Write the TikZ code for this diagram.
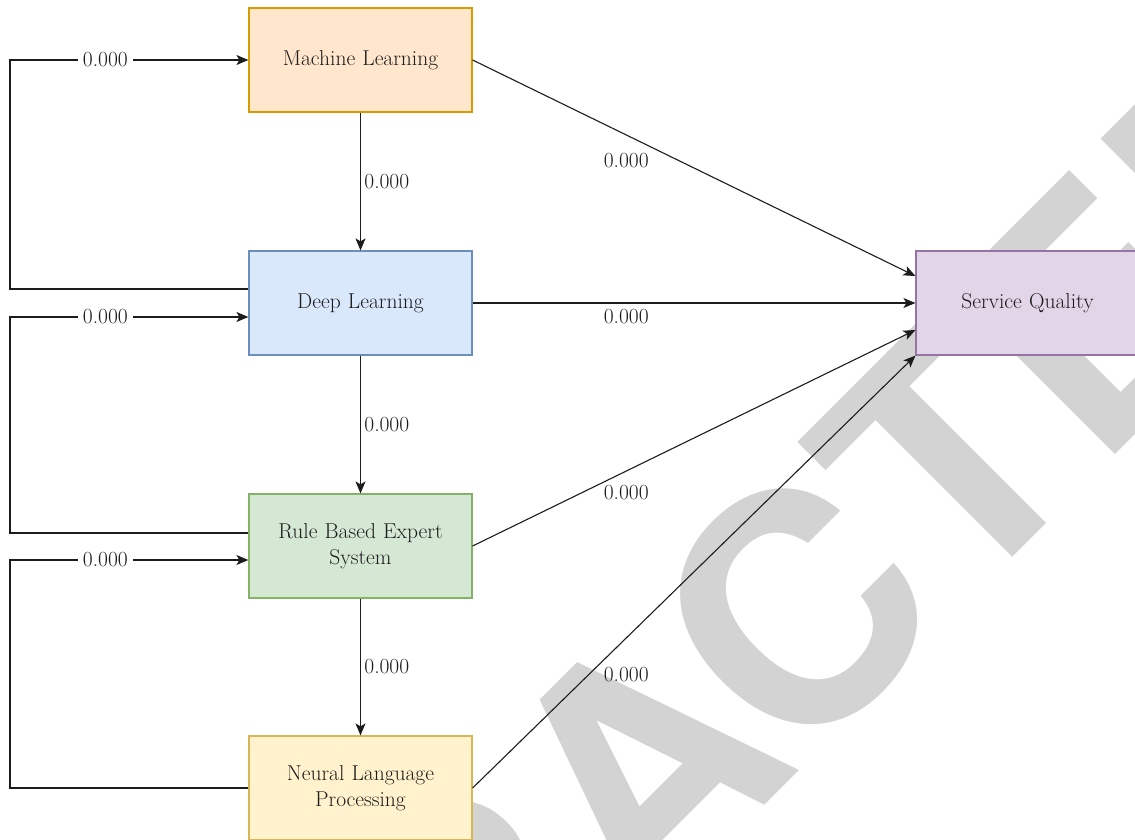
\documentclass[tikz,border=0pt]{standalone}
\usepackage{fontspec}
\newfontfamily\stampfont{TeX Gyre Heros}
\usetikzlibrary{arrows.meta}
\definecolor{mlfill}{HTML}{FFE6CC}
\definecolor{mldraw}{HTML}{D79B00}
\definecolor{dlfill}{HTML}{DAE8FC}
\definecolor{dldraw}{HTML}{6C8EBF}
\definecolor{rbfill}{HTML}{D5E8D4}
\definecolor{rbdraw}{HTML}{82B366}
\definecolor{nlfill}{HTML}{FFF2CC}
\definecolor{nldraw}{HTML}{D6B656}
\definecolor{sqfill}{HTML}{E1D5E7}
\definecolor{sqdraw}{HTML}{9673A6}
\definecolor{stampgray}{RGB}{211,211,211}
\definecolor{ink}{RGB}{28,28,28}
\tikzstyle{block} = [
    rectangle,
    minimum width = 223pt,
    minimum height = 104pt,
    text width = 210pt,
    align = center,
    line width = 1.2pt,
    text = ink,
]
\tikzstyle{weight} = [
    fill = white,
    inner sep = 5pt,
    text = ink,
]
\tikzstyle{link} = [
    -{Stealth[length=12pt, width=10pt, inset=3pt]},
    line width = 1.1pt,
    draw = ink,
]

\begin{document}
\begin{tikzpicture}[x=1pt, y=-1pt, font=\fontsize{21.5}{26}\selectfont]

        \useasboundingbox (0,0) rectangle (1135,839);
        \clip (0,0) rectangle (1135,839);

        %% Watermark
        \node (stamp) [rotate=45, anchor=base, inner sep=0pt, text=stampgray,
            font=\stampfont\bfseries\fontsize{320}{320}\selectfont] at (718,852) {RETRACTED};

        %% Rectangles
        \node (ml) [block, fill=mlfill, draw=mldraw] at (360.5,60)  {Machine Learning};
        \node (dl) [block, fill=dlfill, draw=dldraw] at (360.5,303) {Deep Learning};
        \node (rb) [block, fill=rbfill, draw=rbdraw] at (360.5,546) {Rule Based Expert\\System};
        \node (nl) [block, fill=nlfill, draw=nldraw] at (360.5,788) {Neural Language\\Processing};
        \node (sq) [block, fill=sqfill, draw=sqdraw] at (1027.5,303) {Service Quality};

        \coordinate (rail) at (10,0);
        \coordinate (dlin) at ([yshift=-14pt]dl.west);
        \coordinate (rbin) at ([yshift=-14pt]rb.west);

        %% Feedback links
        \draw[link] ([yshift=14pt]dl.west) -| (rail |- ml.west) -- node[weight, pos=0.4] {0.000} (ml.west);
        \draw[link] ([yshift=13pt]rb.west) -| (rail |- dlin) -- node[weight, pos=0.4] {0.000} (dlin);
        \draw[link] (nl.west) -| (rail |- rbin) -- node[weight, pos=0.4] {0.000} (rbin);

        %% Chain
        \draw[link] (ml) -- node[right, text=ink] {0.000} (dl);
        \draw[link] (dl) -- node[right, text=ink] {0.000} (rb);
        \draw[link] (rb) -- node[right, text=ink] {0.000} (nl);

        %% To service quality
        \draw[link] (ml.east) -- node[pos=0.347, yshift=-26pt, text=ink] {0.000} ([yshift=27pt]sq.west);
        \draw[link] (dl.east) -- node[pos=0.347, yshift=-14pt, text=ink] {0.000} (sq.west);
        \draw[link] (rb.east) -- node[pos=0.347, yshift=-22pt, text=ink] {0.000} ([yshift=-27pt]sq.west);
        \draw[link] (nl.east) -- node[pos=0.347, yshift=-37pt, text=ink] {0.000} (sq.south west);

    \end{tikzpicture}
\end{document}
